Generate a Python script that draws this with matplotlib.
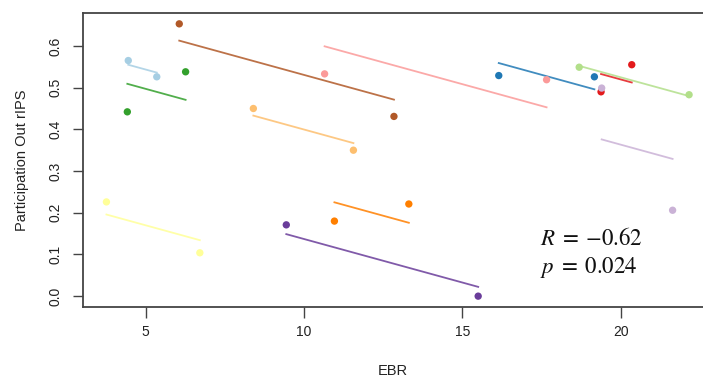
import numpy as np
import matplotlib
matplotlib.use("Agg")
import matplotlib.pyplot as plt

plt.rcParams['font.family'] = ['Liberation Sans', 'DejaVu Sans']
plt.rcParams['mathtext.fontset'] = 'stix'

# two visits per subject: EBR and participation
ebr_1 = [4.45, 4.42, 6.06, 8.40, 10.65, 16.15, 18.69, 20.35, 19.40, 3.76, 10.96, 9.44]
ebr_2 = [5.35, 6.26, 12.84, 11.56, 17.66, 19.17, 22.16, 19.38, 21.64, 6.71, 13.31, 15.50]
part_1 = [0.565, 0.442, 0.653, 0.450, 0.533, 0.529, 0.549, 0.555, 0.499, 0.226, 0.180, 0.171]
part_2 = [0.526, 0.538, 0.431, 0.350, 0.519, 0.526, 0.483, 0.490, 0.206, 0.104, 0.221, 0.000]

colors = ["#a6cee3", "#33a02c", "#b15928", "#fdbf6f", "#fb9a99", "#1f78b4",
          "#b2df8a", "#e31a1c", "#cab2d6", "#ffff99", "#ff7f00", "#6a3d9a"]

stats_text = "$R\\;=\\;{-}0.62$\n$p\\;=\\;0.024$"

x = np.array([ebr_1, ebr_2])
y = np.array([part_1, part_2])

# repeated measures correlation: common slope, subject-specific intercepts
xc = x - x.mean(axis=0)
yc = y - y.mean(axis=0)
slope = (xc * yc).sum() / (xc ** 2).sum()

fig = plt.figure(figsize=(7.03, 3.79), dpi=100)
ax = fig.add_axes([83 / 703, 72 / 379, 1 - 83 / 703, 294 / 379])

for i, c in enumerate(colors):
    xs = np.array([x[:, i].min(), x[:, i].max()])
    ys = y[:, i].mean() + slope * (xs - x[:, i].mean())
    ax.plot(xs, ys, color=c, lw=1.3, alpha=0.85, zorder=2)
    ax.scatter(x[:, i], y[:, i], s=28, color=c, edgecolors="none", zorder=3)

ax.set_xlim(3.02, 22.6)
ax.set_ylim(-0.026, 0.679)
ax.set_xticks([5, 10, 15, 20])
ax.set_yticks([0.0, 0.1, 0.2, 0.3, 0.4, 0.5, 0.6])
ax.set_yticklabels(["0.0", "0.1", "0.2", "0.3", "0.4", "0.5", "0.6"],
                   rotation=90, va="center")
ax.tick_params(direction="out", length=7, width=1, color="#444444",
               labelsize=10, labelcolor="#222222", pad=8)
ax.tick_params(axis="x", length=8, pad=5)
for s in ["left", "bottom", "top"]:
    ax.spines[s].set_color("#444444")
    ax.spines[s].set_linewidth(1.3)
ax.spines["right"].set_visible(False)

ax.set_xlabel("EBR", fontsize=10.5, color="#222222", labelpad=18)
ax.set_ylabel("Participation Out rIPS", fontsize=10.5, color="#222222", labelpad=14)

ax.text(17.45, 0.102, stats_text, fontsize=16.5, color="#111111",
        ha="left", va="center", linespacing=1.25)

fig.savefig("out.png", dpi=100)
